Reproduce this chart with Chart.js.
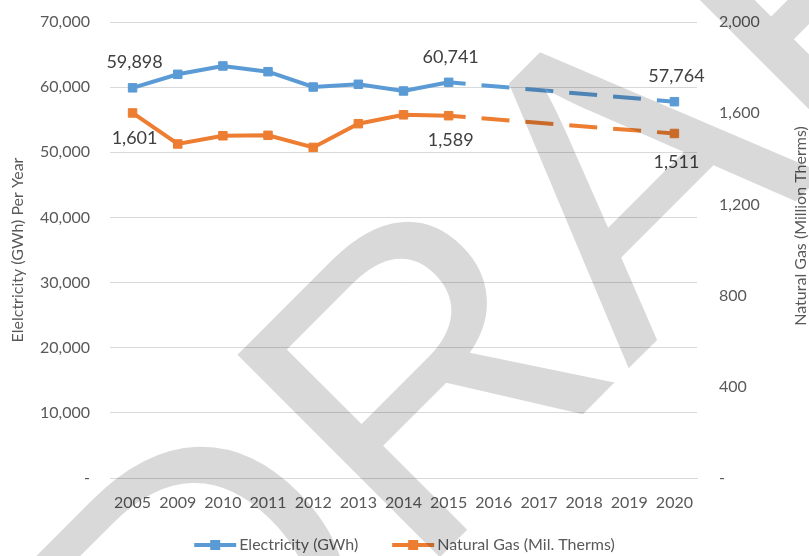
<!DOCTYPE html>
<html><head><meta charset="utf-8">
<script src="https://cdn.jsdelivr.net/npm/chart.js@4.4.1/dist/chart.umd.min.js"></script>
<style>html,body{margin:0;padding:0;background:#fff}</style>
</head><body>
<canvas id="c" width="809" height="556"></canvas>
<script>
// ---- data ----
const categories = ['2005','2009','2010','2011','2012','2013','2014','2015','2016','2017','2018','2019','2020'];
const electricity = [59898, 61970, 63250, 62370, 60020, 60440, 59410, 60741, null, null, null, null, 57764];
const naturalGas  = [1601, 1465, 1501, 1503, 1450, 1554, 1593, 1589, null, null, null, null, 1511];
const leftTicks  = [0, 10000, 20000, 30000, 40000, 50000, 60000, 70000];
const rightTicks = [0, 400, 800, 1200, 1600, 2000];
const labelledIndices = [0, 7, 12];
const projectionStart = 7; // 2015: dashed afterwards
const seriesNames = ['Electricity (GWh)', 'Natural Gas (Mil. Therms)'];
const leftTitle = 'Elelctricity (GWh) Per Year';
const rightTitle = 'Natural Gas (Million Therms)';
const watermarkText = 'DRAFT';

// ---- style ----
const BLUE = '#5B9BD5', ORANGE = '#ED7D31';
const TXT = '#595959', LBL = '#404040', GRID = '#D9D9D9';
const FONT = 'Lato';
const fmt = v => v === 0 ? '-' : v.toLocaleString('en-US');

const dashSeg = {
  borderDash: c => c.p0DataIndex >= projectionStart ? [28, 16] : undefined,
  borderDashOffset: c => c.p0DataIndex >= projectionStart ? 11 : 0
};

function mkDataset(label, data, color, axis) {
  return {
    label, data, yAxisID: axis,
    borderColor: color, backgroundColor: color,
    borderWidth: 4, spanGaps: true, tension: 0,
    pointStyle: 'rect', pointRadius: 6, pointBorderWidth: 1,
    pointBackgroundColor: color, pointBorderColor: color,
    pointHoverRadius: 6,
    segment: dashSeg
  };
}

const labelOffsets = [
  {dx: 2, dy: [-26, -25, -26]},
  {dx: 2, dy: [25, 24, 29]}
];

const overlayPlugin = {
  id: 'overlay',
  afterDatasetsDraw(chart) {
    const ctx = chart.ctx;
    ctx.save();
    // data labels
    ctx.font = `18px ${FONT}`;
    ctx.fillStyle = LBL;
    ctx.textAlign = 'center';
    ctx.textBaseline = 'middle';
    chart.data.datasets.forEach((ds, di) => {
      const meta = chart.getDatasetMeta(di);
      labelledIndices.forEach((idx, k) => {
        const el = meta.data[idx];
        const v = ds.data[idx];
        if (!el || v == null) return;
        ctx.fillText(v.toLocaleString('en-US'), el.x + labelOffsets[di].dx, el.y + labelOffsets[di].dy[k]);
      });
    });
    // right axis title (reads bottom-to-top)
    ctx.font = `16px ${FONT}`;
    ctx.fillStyle = TXT;
    ctx.save();
    ctx.translate(801, 226);
    ctx.rotate(-Math.PI / 2);
    ctx.fillText(rightTitle, 0, 0);
    ctx.restore();
    // legend
    ctx.font = `16px ${FONT}`;
    const symW = 42, gapT = 3, gapItems = 34;
    const widths = seriesNames.map(n => ctx.measureText(n).width);
    const total = widths.reduce((a, w) => a + symW + gapT + w, 0) + gapItems;
    let x = (chart.width - total) / 2;
    const y = 545;
    chart.data.datasets.forEach((ds, i) => {
      ctx.strokeStyle = ds.borderColor;
      ctx.lineWidth = 4;
      ctx.beginPath(); ctx.moveTo(x, y); ctx.lineTo(x + symW, y); ctx.stroke();
      ctx.fillStyle = ds.borderColor;
      ctx.fillRect(x + symW / 2 - 5, y - 5, 10, 10);
      ctx.fillStyle = TXT;
      ctx.textAlign = 'left';
      ctx.fillText(seriesNames[i], x + symW + gapT, y);
      x += symW + gapT + widths[i] + gapItems;
    });
    ctx.restore();
  },
  afterDraw(chart) {
    const ctx = chart.ctx;
    ctx.save();
    ctx.rotate(-Math.PI / 4);
    ctx.font = `416px "Liberation Sans"`;
    ctx.fillStyle = 'rgba(0,0,0,0.15)';
    ctx.textBaseline = 'alphabetic';
    ctx.textAlign = 'left';
    const x0 = 322 - ctx.measureText('DR').width - ctx.measureText('A').width / 2;
    ctx.fillText(watermarkText, x0, 705);
    ctx.restore();
  }
};

const noVPad = s => { s.paddingTop = 0; s.paddingBottom = 0; };

new Chart(document.getElementById('c'), {
  type: 'line',
  data: {
    labels: categories,
    datasets: [
      mkDataset(seriesNames[0], electricity, BLUE, 'y'),
      mkDataset(seriesNames[1], naturalGas, ORANGE, 'y1')
    ]
  },
  options: {
    responsive: false,
    animation: false,
    events: [],
    layout: {padding: {top: 22, bottom: 33, left: 0, right: 0}},
    plugins: {legend: {display: false}, tooltip: {enabled: false}},
    scales: {
      x: {
        offset: true,
        grid: {display: false, drawTicks: false},
        border: {display: true, color: GRID, width: 1},
        ticks: {color: TXT, font: {family: FONT, size: 16}, padding: 15, maxRotation: 0, autoSkip: false},
        afterFit: s => { s.height = 45; }
      },
      y: {
        position: 'left', min: 0, max: 70000,
        afterBuildTicks: s => { s.ticks = leftTicks.map(v => ({value: v})); },
        grid: {color: GRID, lineWidth: 1, drawTicks: false},
        border: {display: false},
        ticks: {color: TXT, font: {family: FONT, size: 16}, padding: 20, callback: v => fmt(v)},
        title: {display: true, text: leftTitle, color: TXT, font: {family: FONT, size: 16}, padding: {top: 8, bottom: 0}},
        afterFit: s => { s.width = 110; noVPad(s); }
      },
      y1: {
        position: 'right', min: 0, max: 2000,
        afterBuildTicks: s => { s.ticks = rightTicks.map(v => ({value: v})); },
        grid: {display: false, drawTicks: false},
        border: {display: false},
        ticks: {color: TXT, font: {family: FONT, size: 16}, padding: 22, callback: v => fmt(v)},
        afterFit: s => { s.width = 112; noVPad(s); }
      }
    }
  },
  plugins: [overlayPlugin]
});
</script>
</body></html>
